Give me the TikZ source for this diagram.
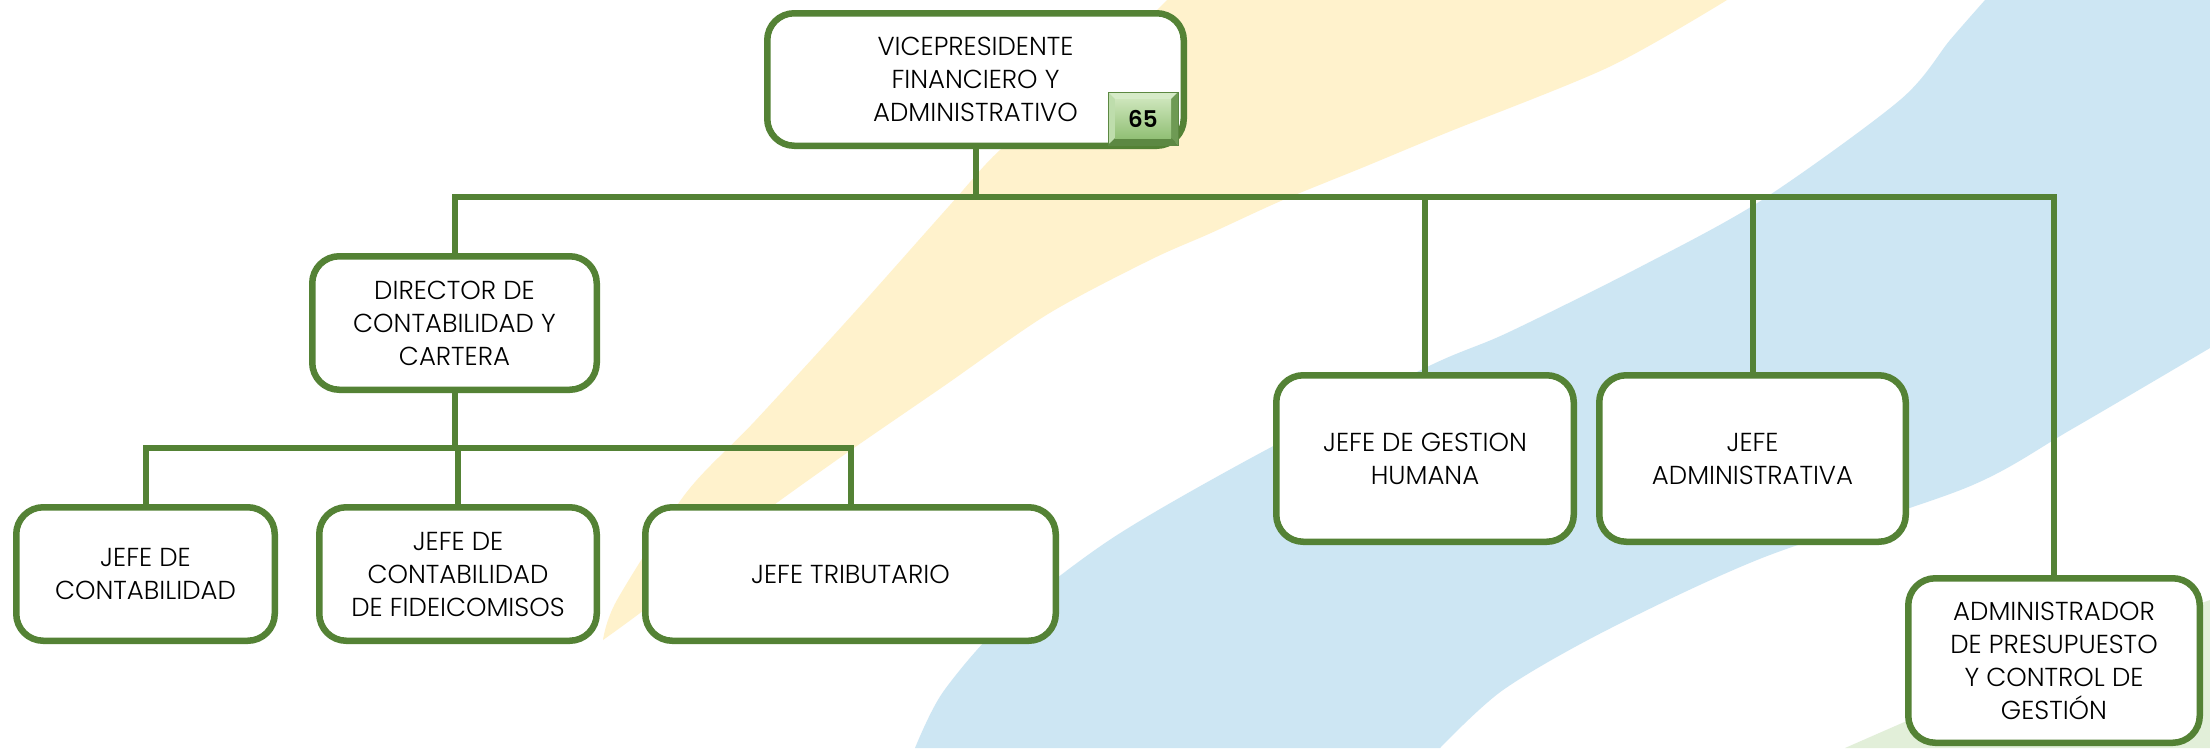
\documentclass[tikz,border=0pt]{standalone}
\usepackage{fontspec}
\setmainfont{Poppins}[UprightFont=* Light, BoldFont=* SemiBold]
\definecolor{cgreen}{RGB}{84,130,53}
\definecolor{byel}{RGB}{255,242,204}
\definecolor{bblu}{RGB}{205,230,243}
\definecolor{bgrn}{RGB}{226,239,217}
\definecolor{bvtop}{RGB}{214,235,200}
\definecolor{bvleft}{RGB}{190,221,172}
\definecolor{bvright}{RGB}{110,154,84}
\definecolor{bvbot}{RGB}{92,136,66}
\definecolor{bvface1}{RGB}{204,229,186}
\definecolor{bvface2}{RGB}{146,192,118}
\tikzset{
  orgbox/.style={draw=cgreen, line width=6.5pt, fill=white, rounded corners=27pt,
    align=center, inner sep=0pt, text=black, font=\fontsize{26}{33}\selectfont},
  conn/.style={draw=cgreen, line width=6pt},
}
\begin{document}
\begin{tikzpicture}[x=1pt,y=-1pt]
\useasboundingbox (0,0) rectangle (2210,748);
\begin{scope}
\clip (0,0) rectangle (2210,748);
\fill[white] (0,0) rectangle (2210,748);
% yellow swoosh
\fill[byel] plot[smooth] coordinates {(1167,0) (1080,85) (1000,150) (950,205) (853,314) (755,421) (686,493) (617,600) (603,640)}
  -- plot[smooth] coordinates {(603,640) (657,600) (743,528) (841,457) (944,386) (1048,314) (1150,260) (1211,233) (1283,200) (1364,167) (1446,133) (1609,67) (1727,0)} -- cycle;
% blue swoosh
\fill[bblu] (1985,0) -- (2210,0) -- (2210,348)
  -- plot[smooth] coordinates {(2210,348) (2072,429) (1968,487) (1762,558) (1607,630) (1503,690) (1440,748)}
  -- (915,748)
  -- plot[smooth] coordinates {(915,748) (943,692) (1006,620) (1111,539) (1251,458) (1427,367) (1507,333) (1640,267) (1762,200) (1900,100) (1950,40) (1985,0)} -- cycle;
% green corner
\fill[bgrn] plot[smooth] coordinates {(1845,748) (1960,698) (2100,640) (2210,600)} -- (2210,748) -- cycle;
\end{scope}

% boxes
\node[orgbox, minimum width=416.5pt, minimum height=132.5pt] (vp) at (975.5,79.5)
  {VICEPRESIDENTE\\FINANCIERO Y\\ADMINISTRATIVO};
\node[orgbox, minimum width=284.5pt, minimum height=133.5pt] (dir) at (454.5,323)
  {DIRECTOR DE\\CONTABILIDAD Y\\CARTERA};
\node[orgbox, minimum width=258.5pt, minimum height=133.5pt] (jc) at (145.5,574)
  {JEFE DE\\CONTABILIDAD};
\node[orgbox, minimum width=277.5pt, minimum height=133.5pt] (jf) at (458,574)
  {JEFE DE\\CONTABILIDAD\\DE FIDEICOMISOS};
\node[orgbox, minimum width=410.5pt, minimum height=133.5pt] (jt) at (850.5,574)
  {JEFE TRIBUTARIO};
\node[orgbox, minimum width=297.5pt, minimum height=166.5pt] (gh) at (1425,458.5)
  {JEFE DE GESTION\\HUMANA};
\node[orgbox, minimum width=306.5pt, minimum height=166.5pt] (ja) at (1752.5,458.5)
  {JEFE\\ADMINISTRATIVA};
\node[orgbox, minimum width=291.5pt, minimum height=164.5pt] (ap) at (2054,660.5)
  {ADMINISTRADOR\\DE PRESUPUESTO\\Y CONTROL DE\\GESTIÓN};

% badge 65
\fill[bvtop] (1108,92) -- (1178,92) -- (1171,99) -- (1115,99) -- cycle;
\fill[bvleft] (1108,92) -- (1115,99) -- (1115,138) -- (1108,145) -- cycle;
\fill[bvright] (1178,92) -- (1178,145) -- (1171,138) -- (1171,99) -- cycle;
\fill[bvbot] (1108,145) -- (1115,138) -- (1171,138) -- (1178,145) -- cycle;
\shade[top color=bvface1, bottom color=bvface2] (1115,99) rectangle (1171,138);
\draw[bvbot, line width=0.8pt] (1108,92) rectangle (1178,145);
\node[inner sep=0pt, font=\fontsize{23}{26}\selectfont\bfseries, text=black] (badge) at (1143,118.5) {65};

% connectors
\coordinate (busA) at (0,197);
\coordinate (busB) at (0,448);
\draw[conn] (vp.south) -- (vp.south |- busA);
\draw[conn] (dir.north) |- (busA -| ap.north) -- (ap.north);
\draw[conn] (gh.north) -- (gh.north |- busA);
\draw[conn] (ja.north) -- (ja.north |- busA);
\draw[conn] (dir.south) -- (dir.south |- busB);
\draw[conn] (jc.north) |- (busB -| jt.north) -- (jt.north);
\draw[conn] (jf.north) -- (jf.north |- busB);
\end{tikzpicture}
\end{document}
